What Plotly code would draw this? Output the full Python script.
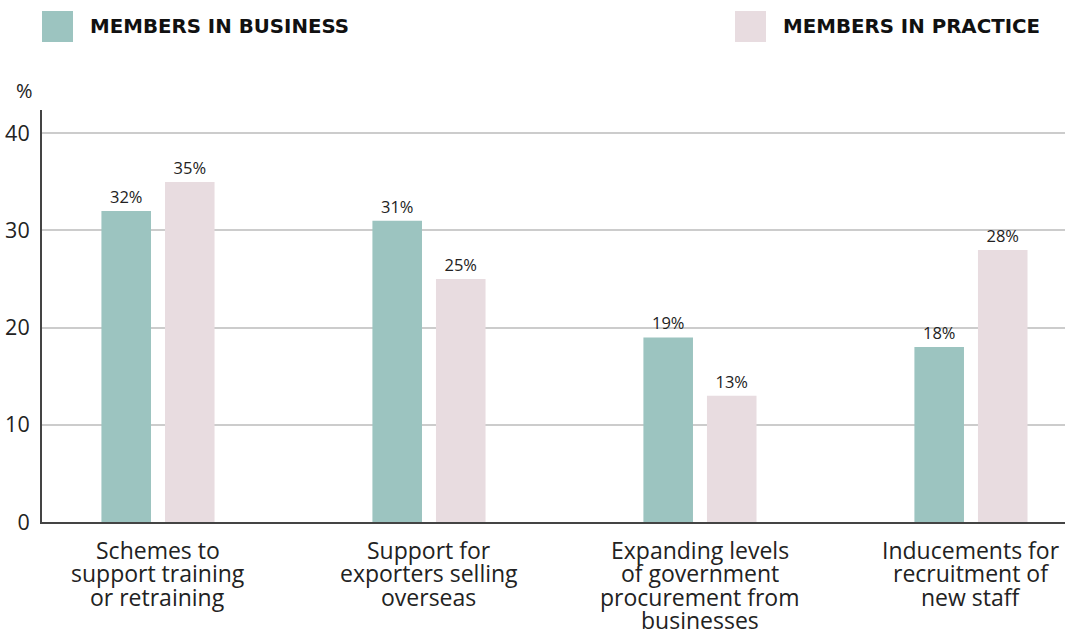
import plotly.graph_objects as go

categories = [
    "Schemes to<br>support training<br>or retraining",
    "Support for<br>exporters selling<br>overseas",
    "Expanding levels<br>of government<br>procurement from<br>businesses",
    "Inducements for<br>recruitment of<br>new staff",
]
business = [32, 31, 19, 18]
practice = [35, 25, 13, 28]
series_names = ["MEMBERS IN BUSINESS", "MEMBERS IN PRACTICE"]
y_ticks = [0, 10, 20, 30, 40]

TEAL = "#9cc4c0"
PINK = "#e8dce0"
FONT = "Open Sans"

fig = go.Figure()
for name, vals, col in [(series_names[0], business, TEAL), (series_names[1], practice, PINK)]:
    fig.add_trace(go.Bar(
        x=categories, y=vals, name=name, marker=dict(color=col, line=dict(width=0)),
        text=[f"{v}%" for v in vals], textposition="outside",
        textfont=dict(family=FONT, size=16.5, color="#222"), cliponaxis=False,
    ))

W, H = 1065, 632
ML, MR, MT, MB = 42, 0, 110, 110
PW, PH = W - ML - MR, H - MT - MB

fig.update_layout(
    width=W, height=H, margin=dict(l=ML, r=MR, t=MT, b=MB, autoexpand=False),
    paper_bgcolor="white", plot_bgcolor="white",
    barmode="group", bargap=0.531, bargroupgap=0.22,
    showlegend=False,
    font=dict(family=FONT, color="#222"),
)
fig.update_xaxes(
    range=[-0.428, 3.347], showline=True, linecolor="#444", linewidth=2,
    showgrid=False, ticks="", showticklabels=False, automargin=False,
)
fig.update_yaxes(
    range=[0, 42.4], tickvals=y_ticks, showline=True, linecolor="#444", linewidth=2,
    showgrid=True, gridcolor="#cccccc", gridwidth=1.5, zeroline=False, ticks="",
    tickfont=dict(family=FONT, size=21.5, color="#222"), ticklabelstandoff=6,
    automargin=False,
)

def fx(px):
    return (px - ML) / PW

def fy(py):
    return (H - MB - py) / PH

# Category labels, one annotation per line for tight line spacing
LINE_STEP = 23.3
FIRST_LINE = 550
for i, label in enumerate(categories):
    for j, line in enumerate(label.split("<br>")):
        fig.add_annotation(xref="x", yref="paper", x=i, y=fy(FIRST_LINE + j * LINE_STEP),
                           xanchor="center", yanchor="middle", showarrow=False,
                           text=line, font=dict(family=FONT, size=23, color="#222"))

# Legend drawn as swatches plus labels across the top
for (x0, tx), name, col in zip([(42, 88), (735, 781)], series_names, [TEAL, PINK]):
    fig.add_shape(type="rect", xref="paper", yref="paper",
                  x0=fx(x0), x1=fx(x0 + 31), y0=fy(42), y1=fy(11),
                  fillcolor=col, line=dict(width=0), layer="above")
    fig.add_annotation(xref="paper", yref="paper", x=fx(tx), y=fy(27),
                       xanchor="left", yanchor="middle", showarrow=False,
                       text=name, font=dict(family="DejaVu Sans", size=19.8, color="#111", weight=700))

fig.add_annotation(xref="paper", yref="paper", x=fx(35), y=fy(91),
                   xanchor="right", yanchor="middle", showarrow=False,
                   text="%", font=dict(family=FONT, size=20, color="#222"))

fig.write_html("out.html")
